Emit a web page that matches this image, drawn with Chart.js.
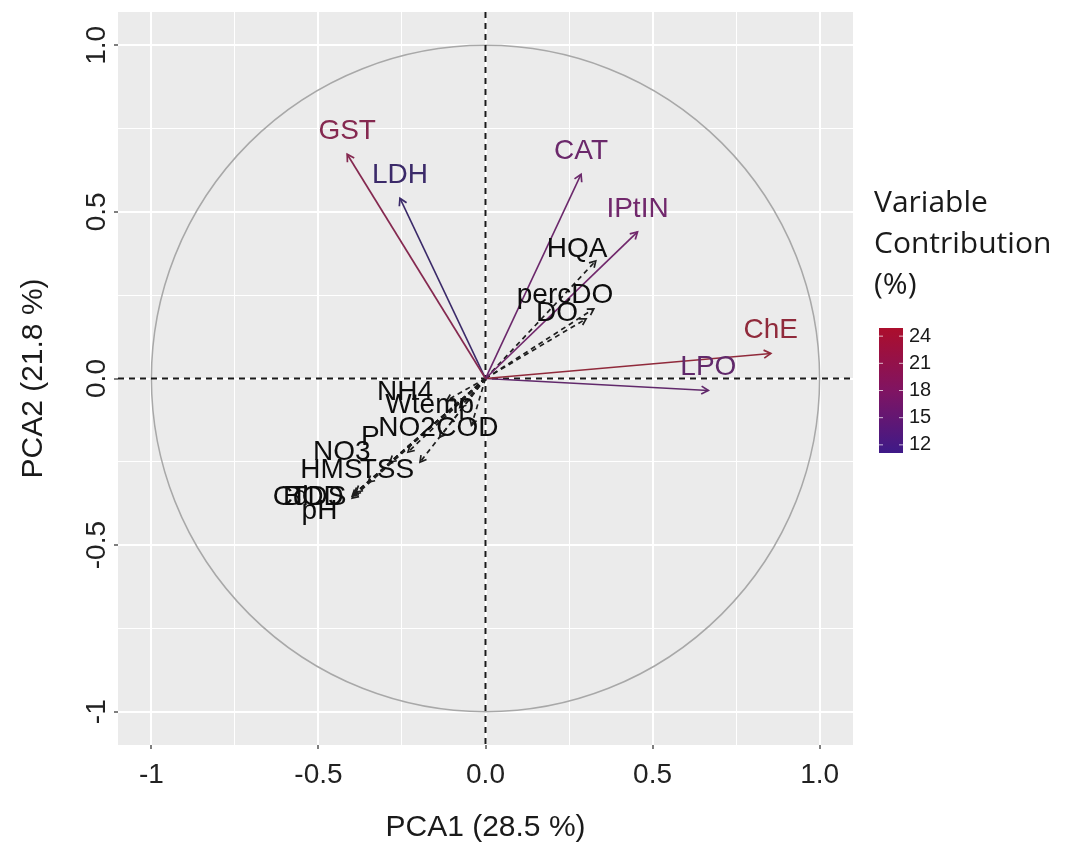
<!DOCTYPE html>
<html>
  <head>
    <meta charset="UTF-8" />
    <title>PCA - Variable Contribution</title>
    <script src="https://cdn.jsdelivr.net/npm/chart.js"></script>
    <style>
      html, body { margin: 0; padding: 0; background: #fff; }
      canvas { display: block; }
    </style>
  </head>
  <body>
    <canvas id="pcaChart" width="1065" height="852"></canvas>

    <script>
      // active variables (coloured by contribution)
      const activeVars = ["GST", "LDH", "CAT", "IPtIN", "ChE", "LPO"];
      const activeX = [-0.414, -0.256, 0.286, 0.455, 0.854, 0.667];
      const activeY = [0.673, 0.541, 0.613, 0.44, 0.075, -0.036];
      const activeContrib = [21.5, 12.5, 17, 17.5, 24, 16];

      // supplementary variables (dashed, black)
      const suppVars = ["HQA", "percDO", "DO", "NH4", "Wtemp", "NO2", "COD", "P", "NO3", "HMS", "TSS", "Cd", "BOD", "TDS", "pH"];
      const suppX = [0.33, 0.324, 0.301, -0.116, -0.077, -0.137, -0.042, -0.232, -0.286, -0.351, -0.196, -0.387, -0.393, -0.399, -0.399];
      const suppY = [0.353, 0.209, 0.179, -0.066, -0.087, -0.176, -0.141, -0.221, -0.251, -0.311, -0.251, -0.341, -0.347, -0.353, -0.359];
      const suppLabelX = [0.274, 0.238, 0.214, -0.241, -0.167, -0.235, -0.054, -0.345, -0.43, -0.461, -0.295, -0.583, -0.515, -0.5, -0.497];
      const suppLabelY = [0.389, 0.251, 0.197, -0.042, -0.081, -0.149, -0.149, -0.176, -0.221, -0.275, -0.275, -0.356, -0.356, -0.356, -0.398];

      // axes
      const gridValues = [-1, -0.75, -0.5, -0.25, 0, 0.25, 0.5, 0.75, 1];
      const xTickValues = [-1, -0.5, 0, 0.5, 1];
      const xTickLabels = ["-1", "-0.5", "0.0", "0.5", "1.0"];
      const yTickValues = [-1, -0.5, 0, 0.5, 1];
      const yTickLabels = ["-1", "-0.5", "0.0", "0.5", "1.0"];

      // colour bar
      const contribTicks = [12, 15, 18, 21, 24];
      const contribMin = 11.1;
      const contribMax = 24.9;

      // gradient of the bar, and a deeper version for the thin marks
      const barStops = [
        [0, [62, 26, 136]],
        [0.5, [128, 20, 98]],
        [1, [172, 14, 44]],
      ];
      const markStops = [
        [0, [44, 42, 104]],
        [0.5, [118, 40, 108]],
        [1, [148, 42, 52]],
      ];

      function gradColor(stops, v) {
        let t = (v - contribMin) / (contribMax - contribMin);
        t = Math.max(0, Math.min(1, t));
        for (let i = 1; i < stops.length; i++) {
          const [t1, c1] = stops[i];
          const [t0, c0] = stops[i - 1];
          if (t <= t1) {
            const f = (t - t0) / (t1 - t0);
            const c = c0.map((a, k) => Math.round(a + (c1[k] - a) * f));
            return `rgb(${c[0]},${c[1]},${c[2]})`;
          }
        }
        const c = stops[stops.length - 1][1];
        return `rgb(${c[0]},${c[1]},${c[2]})`;
      }

      const activeColors = activeContrib.map((v) => gradColor(markStops, v));

      const datasets = activeVars
        .map((name, i) => ({
          label: name,
          data: [{ x: 0, y: 0 }, { x: activeX[i], y: activeY[i] }],
          showLine: true,
          borderColor: activeColors[i],
          borderWidth: 1.7,
          pointRadius: 0,
        }))
        .concat(
          suppVars.map((name, i) => ({
            label: name,
            data: [{ x: 0, y: 0 }, { x: suppX[i], y: suppY[i] }],
            showLine: true,
            borderColor: "#1e1e1e",
            borderWidth: 1.7,
            borderDash: [5, 4],
            pointRadius: 0,
          }))
        );

      function drawArrowHead(ctx, x0, y0, x1, y1, color, len) {
        const ang = Math.atan2(y1 - y0, x1 - x0);
        ctx.strokeStyle = color;
        ctx.setLineDash([]);
        ctx.beginPath();
        ctx.moveTo(x1 - len * Math.cos(ang - Math.PI / 6), y1 - len * Math.sin(ang - Math.PI / 6));
        ctx.lineTo(x1, y1);
        ctx.lineTo(x1 - len * Math.cos(ang + Math.PI / 6), y1 - len * Math.sin(ang + Math.PI / 6));
        ctx.stroke();
      }

      const panelBg = {
        id: "panelBg",
        beforeDraw(chart) {
          const { ctx, chartArea: a } = chart;
          ctx.save();
          ctx.fillStyle = "#ebebeb";
          ctx.fillRect(a.left, a.top, a.width, a.height);
          ctx.restore();
        },
      };

      const refLines = {
        id: "refLines",
        beforeDatasetsDraw(chart) {
          const { ctx, chartArea: a, scales } = chart;
          const cx = scales.x.getPixelForValue(0);
          const cy = scales.y.getPixelForValue(0);
          const rx = scales.x.getPixelForValue(1) - cx;
          const ry = cy - scales.y.getPixelForValue(1);
          ctx.save();
          ctx.strokeStyle = "#a8a8a8";
          ctx.lineWidth = 1.5;
          ctx.beginPath();
          ctx.ellipse(cx, cy, rx, ry, 0, 0, Math.PI * 2);
          ctx.stroke();
          ctx.strokeStyle = "#1a1a1a";
          ctx.lineWidth = 2;
          ctx.setLineDash([6, 5]);
          ctx.beginPath();
          ctx.moveTo(a.left, cy);
          ctx.lineTo(a.right, cy);
          ctx.moveTo(cx, a.top);
          ctx.lineTo(cx, a.bottom);
          ctx.stroke();
          ctx.restore();
        },
      };

      const arrowsAndLabels = {
        id: "arrowsAndLabels",
        afterDatasetsDraw(chart) {
          const { ctx, scales } = chart;
          const sx = scales.x, sy = scales.y;
          const ox = sx.getPixelForValue(0), oy = sy.getPixelForValue(0);
          ctx.save();
          ctx.lineWidth = 1.7;
          ctx.textAlign = "center";
          ctx.textBaseline = "middle";
          ctx.font = "28px 'Liberation Sans', Arial, sans-serif";

          suppVars.forEach((name, i) => {
            const px = sx.getPixelForValue(suppX[i]);
            const py = sy.getPixelForValue(suppY[i]);
            drawArrowHead(ctx, ox, oy, px, py, "#1e1e1e", 7);
          });
          suppVars.forEach((name, i) => {
            ctx.fillStyle = "#0d0d0d";
            ctx.fillText(name, sx.getPixelForValue(suppLabelX[i]), sy.getPixelForValue(suppLabelY[i]));
          });

          activeVars.forEach((name, i) => {
            const px = sx.getPixelForValue(activeX[i]);
            const py = sy.getPixelForValue(activeY[i]);
            drawArrowHead(ctx, ox, oy, px, py, activeColors[i], 8);
            ctx.fillStyle = activeColors[i];
            ctx.fillText(name, px, py - 23);
          });
          ctx.restore();
        },
      };

      const colorLegend = {
        id: "colorLegend",
        afterDraw(chart) {
          const { ctx } = chart;
          ctx.save();
          ctx.fillStyle = "#1a1a1a";
          ctx.textAlign = "left";
          ctx.textBaseline = "middle";
          ctx.font = "30px 'Open Sans', 'Noto Sans', sans-serif";
          ["Variable", "Contribution", "(%)"].forEach((t, i) => {
            ctx.fillText(t, 874, 203 + i * 41);
          });

          const barX = 879, barW = 24, barTop = 328, barBottom = 453;
          const g = ctx.createLinearGradient(0, barBottom, 0, barTop);
          barStops.forEach(([t, c]) => g.addColorStop(t, `rgb(${c[0]},${c[1]},${c[2]})`));
          ctx.fillStyle = g;
          ctx.fillRect(barX, barTop, barW, barBottom - barTop);

          ctx.font = "20px 'Liberation Sans', Arial, sans-serif";
          ctx.fillStyle = "#1a1a1a";
          contribTicks.forEach((v) => {
            const yy = barBottom - ((v - contribMin) / (contribMax - contribMin)) * (barBottom - barTop);
            ctx.strokeStyle = "rgba(255,255,255,0.7)";
            ctx.lineWidth = 1;
            ctx.beginPath();
            ctx.moveTo(barX, yy);
            ctx.lineTo(barX + 4, yy);
            ctx.moveTo(barX + barW - 4, yy);
            ctx.lineTo(barX + barW, yy);
            ctx.stroke();
            ctx.fillText(String(v), barX + barW + 6, yy);
          });
          ctx.restore();
        },
      };

      const isMajor = (v) => Math.abs(v * 2 - Math.round(v * 2)) < 1e-6;

      const ctx = document.getElementById("pcaChart").getContext("2d");
      new Chart(ctx, {
        type: "scatter",
        data: { datasets: datasets },
        plugins: [panelBg, refLines, arrowsAndLabels, colorLegend],
        options: {
          responsive: false,
          animation: false,
          devicePixelRatio: 1,
          layout: { padding: { top: 12, right: 212, left: 0, bottom: 0 } },
          plugins: {
            legend: { display: false },
            tooltip: { enabled: false },
          },
          scales: {
            x: {
              type: "linear",
              position: "bottom",
              min: -1.1,
              max: 1.1,
              afterBuildTicks: (s) => { s.ticks = gridValues.map((v) => ({ value: v })); },
              afterFit: (s) => { s.height = 107; },
              border: { display: false },
              grid: {
                color: "#ffffff",
                lineWidth: (c) => (isMajor(c.tick.value) ? 2 : 1),
                tickColor: (c) => (isMajor(c.tick.value) ? "#555" : "rgba(0,0,0,0)"),
                tickLength: 4,
                tickWidth: 1.5,
              },
              ticks: {
                autoSkip: false,
                maxRotation: 0,
                padding: 9,
                color: "#222",
                font: { family: "'Liberation Sans', Arial, sans-serif", size: 28 },
                callback: (v) => {
                  const i = xTickValues.findIndex((t) => Math.abs(t - v) < 1e-6);
                  return i >= 0 ? xTickLabels[i] : "";
                },
              },
              title: {
                display: true,
                text: "PCA1 (28.5 %)",
                color: "#1a1a1a",
                font: { family: "'Liberation Sans', Arial, sans-serif", size: 30 },
                padding: { top: 0, bottom: 6 },
              },
            },
            y: {
              type: "linear",
              position: "left",
              min: -1.1,
              max: 1.1,
              afterBuildTicks: (s) => { s.ticks = gridValues.map((v) => ({ value: v })); },
              afterFit: (s) => { s.width = 118; },
              border: { display: false },
              grid: {
                color: "#ffffff",
                lineWidth: (c) => (isMajor(c.tick.value) ? 2 : 1),
                tickColor: (c) => (isMajor(c.tick.value) ? "#555" : "rgba(0,0,0,0)"),
                tickLength: 4,
                tickWidth: 1.5,
              },
              ticks: {
                autoSkip: false,
                minRotation: 90,
                maxRotation: 90,
                crossAlign: "center",
                padding: -7,
                color: "#222",
                font: { family: "'Liberation Sans', Arial, sans-serif", size: 28 },
                callback: (v) => {
                  const i = yTickValues.findIndex((t) => Math.abs(t - v) < 1e-6);
                  return i >= 0 ? yTickLabels[i] : "";
                },
              },
              title: {
                display: true,
                text: "PCA2 (21.8 %)",
                color: "#1a1a1a",
                font: { family: "'Liberation Sans', Arial, sans-serif", size: 30 },
                padding: { top: 16, bottom: 0 },
              },
            },
          },
        },
      });
    </script>
  </body>
</html>
